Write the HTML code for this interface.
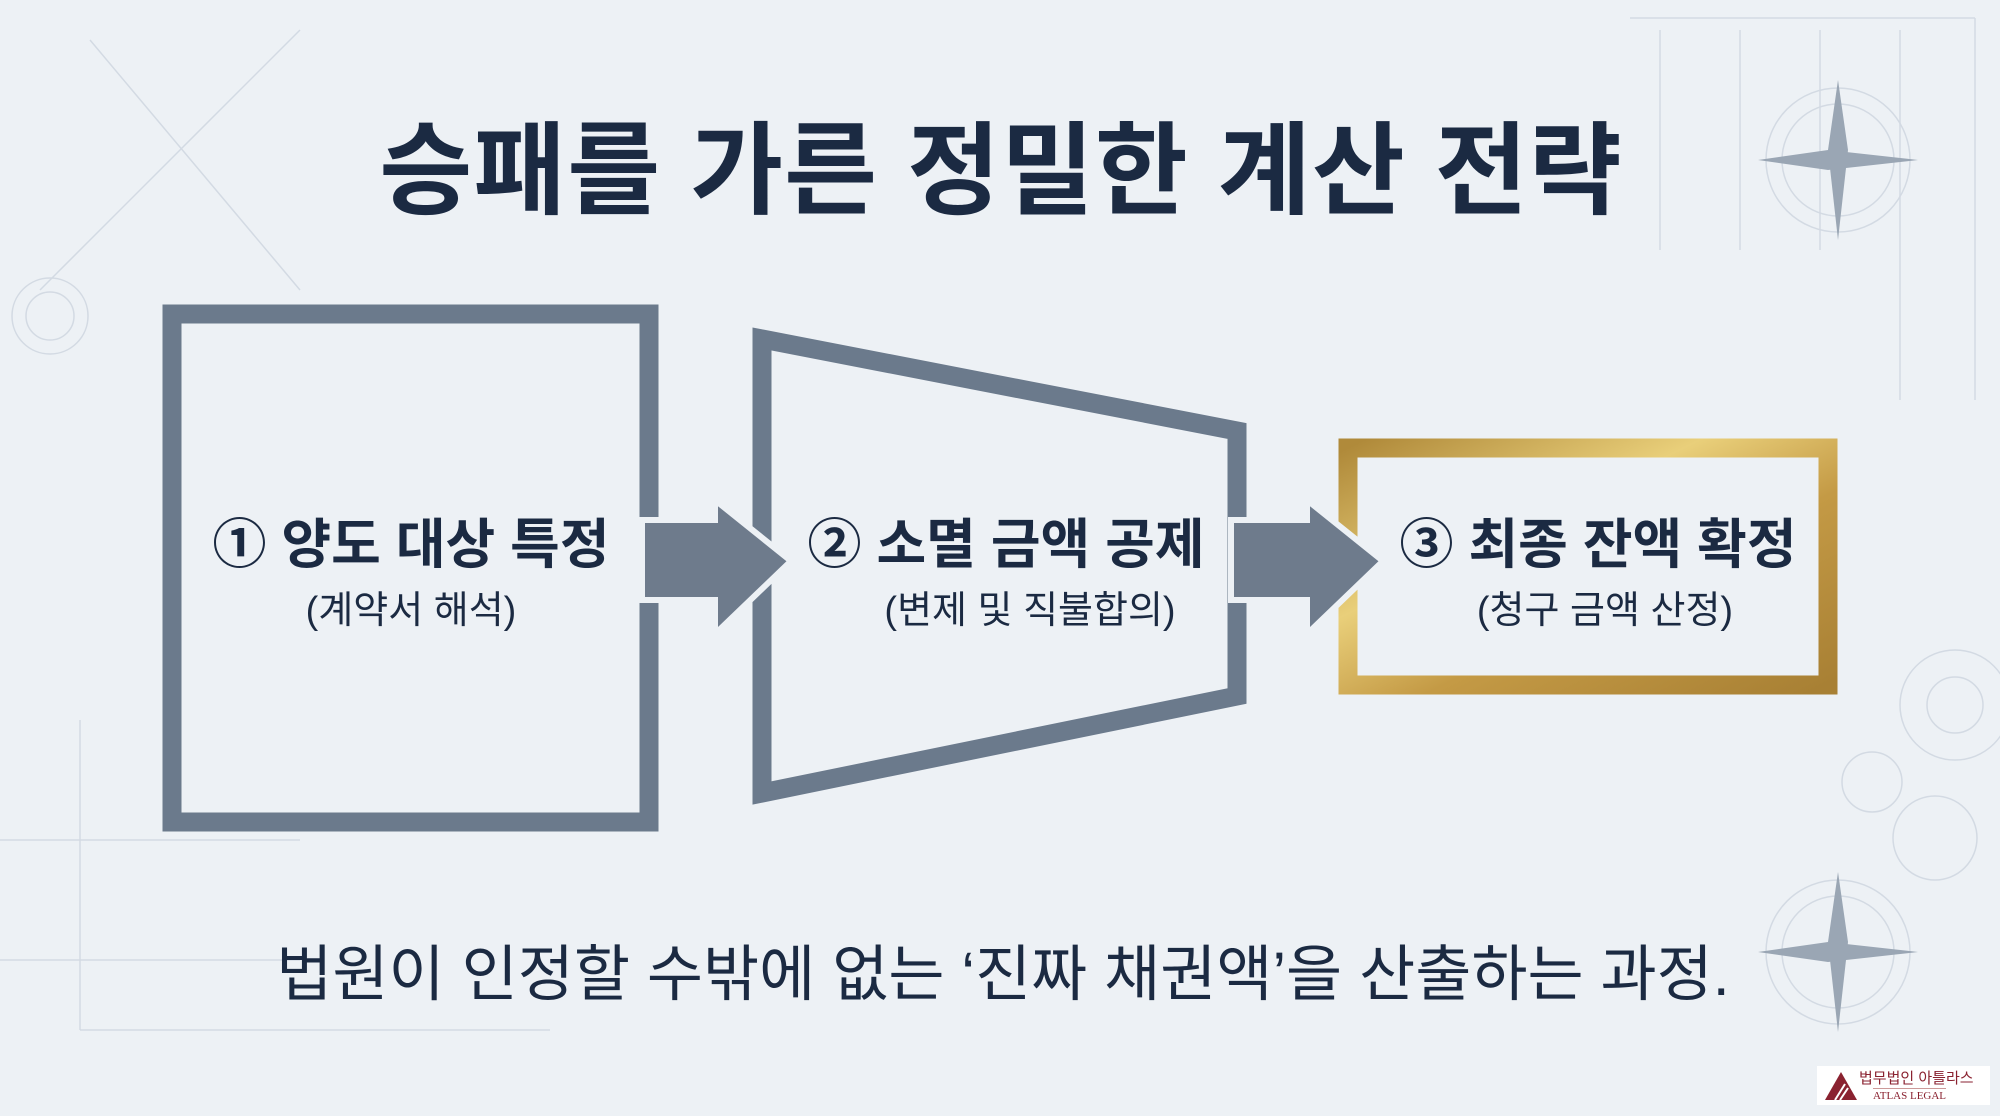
<!DOCTYPE html>
<html><head><meta charset="utf-8"><style>
html,body{margin:0;padding:0}
body{width:2000px;height:1116px;overflow:hidden;background:#edf1f5;position:relative;font-family:"Liberation Sans","Noto Sans CJK KR",sans-serif}
.t{position:absolute;white-space:nowrap;transform:translateX(-50%);color:#1b2a42}
</style></head><body>
<svg width="2000" height="1116" style="position:absolute;left:0;top:0">
<defs>
<linearGradient id="g" x1="0" y1="0" x2="1" y2="1">
<stop offset="0" stop-color="#b08a3a"/><stop offset="0.35" stop-color="#e9cf7a"/><stop offset="0.6" stop-color="#c49a45"/><stop offset="1" stop-color="#a88034"/>
</linearGradient>
</defs>
<g stroke="#d3dae3" stroke-width="1.5" fill="none">
<line x1="80" y1="720" x2="80" y2="1030"/><line x1="80" y1="1030" x2="550" y2="1030"/>
<line x1="0" y1="840" x2="300" y2="840"/><line x1="0" y1="960" x2="300" y2="960"/>
<line x1="90" y1="40" x2="300" y2="290"/><line x1="40" y1="290" x2="300" y2="30"/>
<line x1="1630" y1="18" x2="1975" y2="18"/><line x1="1975" y1="18" x2="1975" y2="400"/>
<line x1="1660" y1="30" x2="1660" y2="250"/><line x1="1740" y1="30" x2="1740" y2="250"/><line x1="1820" y1="30" x2="1820" y2="250"/><line x1="1900" y1="30" x2="1900" y2="400"/>
<circle cx="50" cy="316" r="38"/><circle cx="50" cy="316" r="24"/>
<circle cx="1955" cy="705" r="55"/><circle cx="1955" cy="705" r="28"/>
<circle cx="1872" cy="782" r="30"/><circle cx="1935" cy="838" r="42"/>
<circle cx="1838" cy="160" r="72"/><circle cx="1838" cy="160" r="56"/>
<circle cx="1838" cy="952" r="72"/><circle cx="1838" cy="952" r="56"/>
</g>
<g fill="#9aa6b4">
<polygon points="1838,80 1848,150 1838,240 1828,150"/><polygon points="1758,160 1828,150 1918,160 1828,170"/>
<polygon points="1838,872 1848,942 1838,1032 1828,942"/><polygon points="1758,952 1828,942 1918,952 1828,962"/>
</g>
<rect x="172" y="314" width="477" height="508" fill="none" stroke="#6b7a8c" stroke-width="19"/>
<polygon points="762,339 1237,431 1237,696 762,793" fill="none" stroke="#6b7a8c" stroke-width="19"/>
<rect x="1348" y="448" width="480" height="237" fill="none" stroke="url(#g)" stroke-width="19"/>
<polygon points="642,520 715,520 715,500 791,561 715,634 715,600 642,600" fill="#6e7b8c" stroke="#edf1f5" stroke-width="6"/>
<polygon points="1231,520 1307,520 1307,500 1383,561 1307,634 1307,600 1231,600" fill="#6e7b8c" stroke="#edf1f5" stroke-width="6"/>
</svg>
<div class="t" style="left:1001px;top:90px;font-size:101px;font-weight:bold;letter-spacing:1px">승패를 가른 정밀한 계산 전략</div>
<div class="t" style="left:411px;top:500px;font-size:54px;font-weight:bold">① 양도 대상 특정</div>
<div class="t" style="left:411px;top:579px;font-size:38px">(계약서 해석)</div>
<div class="t" style="left:1006px;top:500px;font-size:54px;font-weight:bold">② 소멸 금액 공제</div>
<div class="t" style="left:1030px;top:579px;font-size:38px">(변제 및 직불합의)</div>
<div class="t" style="left:1598px;top:500px;font-size:54px;font-weight:bold">③ 최종 잔액 확정</div>
<div class="t" style="left:1605px;top:579px;font-size:38px">(청구 금액 산정)</div>
<div class="t" style="left:1003px;top:924px;font-size:61px">법원이 인정할 수밖에 없는 ‘진짜 채권액’을 산출하는 과정.</div>
<div style="position:absolute;left:1817px;top:1066px;width:173px;height:39px;background:#fff">
<svg width="40" height="39" style="position:absolute;left:4px;top:0"><polygon points="20,6 36,34 4,34" fill="#8a2230"/><line x1="14" y1="34" x2="24" y2="18" stroke="#fff" stroke-width="2"/><line x1="19" y1="34" x2="27" y2="22" stroke="#fff" stroke-width="2"/></svg>
<div style="position:absolute;left:42px;top:1px;font-size:15px;color:#8a2230">법무법인 아틀라스</div>
<div style="position:absolute;left:56px;top:22px;font-size:11px;color:#8a2230;font-family:'Liberation Serif',serif;border-top:1px solid #c99;padding-top:1px">ATLAS LEGAL</div>
</div>
</body></html>
